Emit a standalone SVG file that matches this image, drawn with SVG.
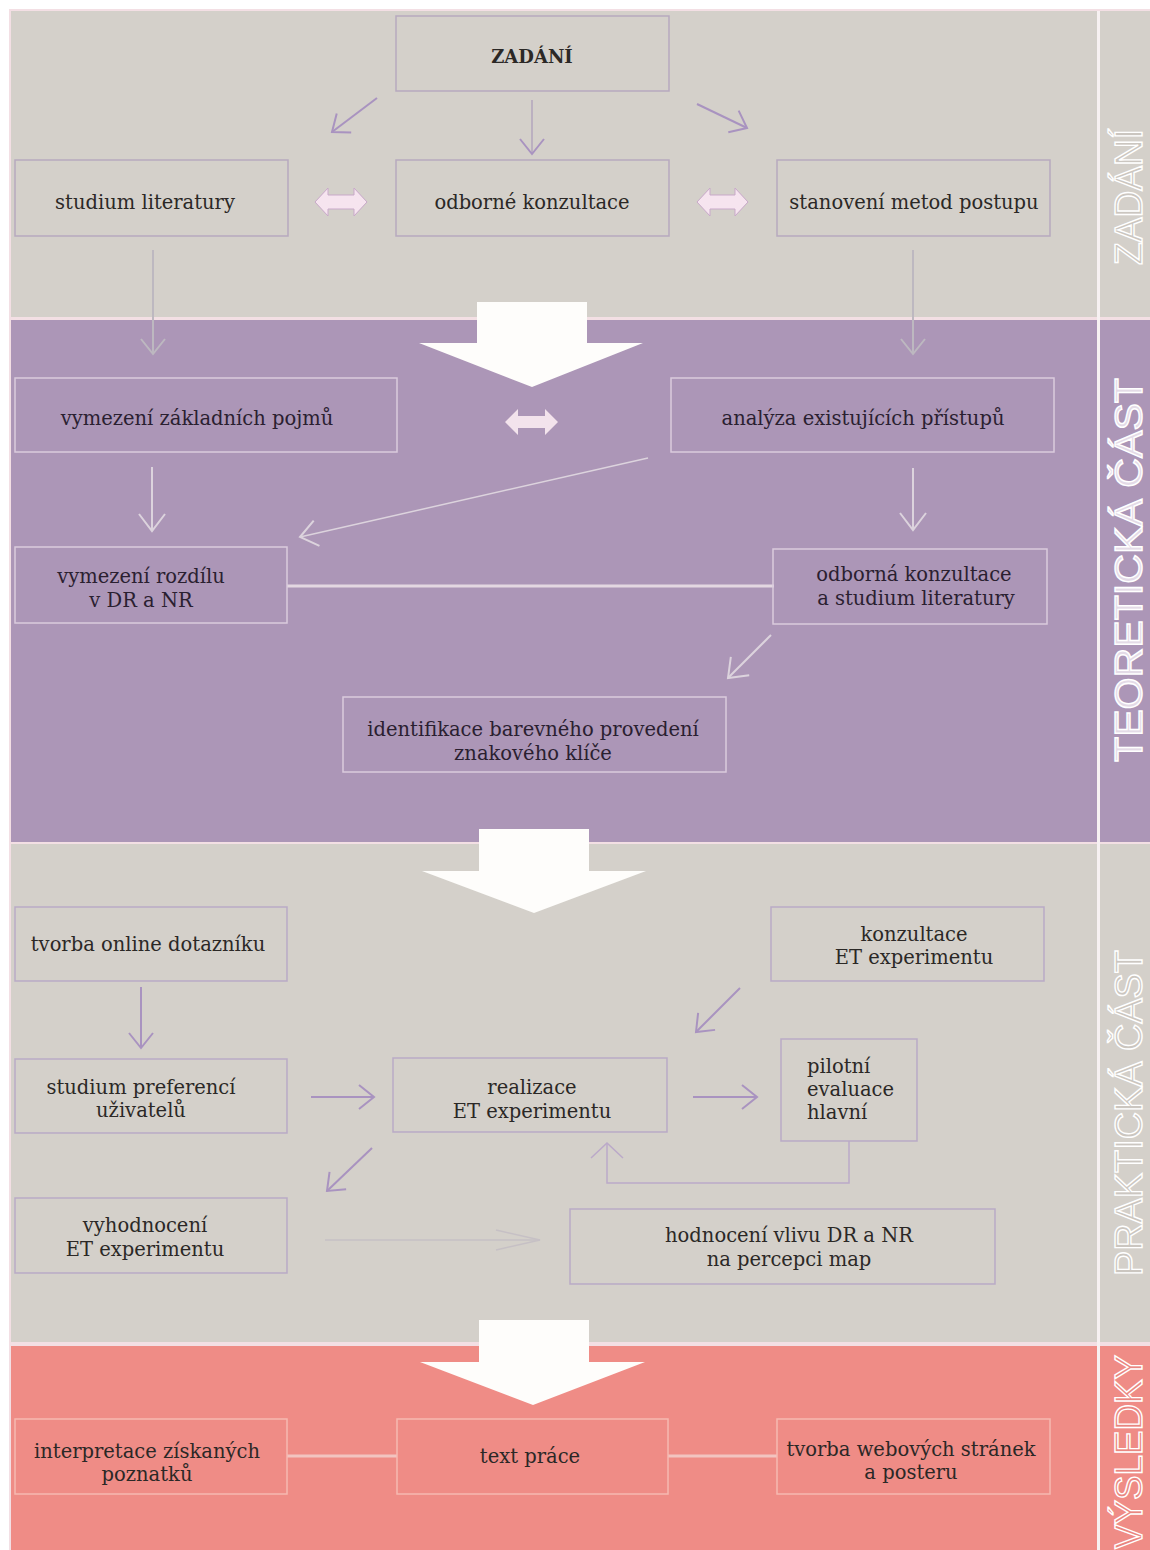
<svg xmlns="http://www.w3.org/2000/svg" width="1150" height="1550" viewBox="0 0 1150 1550">
  <style>
    .t { font-family: "DejaVu Serif", "Liberation Serif", serif; font-size: 19.5px; fill: #2b2826; text-anchor: middle; }
    .t2 { fill: #2a2030; }
    .tb { font-weight: bold; font-size: 18px; }
    .side { font-family: "Liberation Sans", "DejaVu Sans", sans-serif; font-size: 38px; stroke: #ffffff; stroke-width: 1.4; text-anchor: middle; }
    .box1 { fill: none; stroke: #b7a9bf; stroke-width: 1.5; }
    .box2 { fill: none; stroke: #dacbdd; stroke-width: 1.5; }
    .box3 { fill: none; stroke: #b9aac6; stroke-width: 1.5; }
    .box4 { fill: none; stroke: #f6b9b1; stroke-width: 1.5; }
    .ln { fill: none; stroke-width: 2; }
    .purple { stroke: #a993c0; }
    .grey { stroke: #bdb8c0; }
    .light { stroke: #dcd3dd; }
    .fb { stroke: #bba9c9; }
    .big { fill: #fefdfb; }
    .dbl { fill: #f6e4ef; stroke: #c8a9c9; stroke-width: 1; }
  </style>
  <defs>
    <marker id="hPurple" markerUnits="userSpaceOnUse" markerWidth="1" markerHeight="1" orient="auto" overflow="visible">
      <path d="M-15,-12 L0,0 L-15,12" fill="none" stroke="#a993c0" stroke-width="2"/>
    </marker>
    <marker id="hGrey" markerUnits="userSpaceOnUse" markerWidth="1" markerHeight="1" orient="auto" overflow="visible">
      <path d="M-15,-12 L0,0 L-15,12" fill="none" stroke="#bdb8c0" stroke-width="2"/>
    </marker>
    <marker id="hLight" markerUnits="userSpaceOnUse" markerWidth="1" markerHeight="1" orient="auto" overflow="visible">
      <path d="M-17,-13 L0,0 L-17,13" fill="none" stroke="#dcd3dd" stroke-width="2"/>
    </marker>
    <marker id="hFb" markerUnits="userSpaceOnUse" markerWidth="1" markerHeight="1" orient="auto" overflow="visible">
      <path d="M-15,-16 L0,0 L-15,16" fill="none" stroke="#bba9c9" stroke-width="1.5"/>
    </marker>
    <marker id="hLong" markerUnits="userSpaceOnUse" markerWidth="1" markerHeight="1" orient="auto" overflow="visible">
      <path d="M-44,-10 L0,0 L-44,10" fill="none" stroke="#c6c0c5" stroke-width="1.5"/>
    </marker>
  </defs>

  <!-- page and section bands -->
  <rect x="0" y="0" width="1150" height="1550" fill="#ffffff"/>
  <rect x="9" y="9" width="1141" height="1541" fill="#f3dfe4"/>
  <rect x="11" y="11" width="1139" height="306" fill="#d4d0ca"/>
  <rect x="11" y="320" width="1139" height="522" fill="#ac96b7"/>
  <rect x="11" y="844" width="1139" height="498" fill="#d4d0ca"/>
  <rect x="11" y="1346" width="1139" height="204" fill="#ef8c86"/>
  <rect x="1097" y="11" width="3" height="1539" fill="#f7f1f2"/>

  <!-- section titles -->
  <text class="side" fill="#cbc6c0" transform="translate(1142,197) rotate(-90)" textLength="136" lengthAdjust="spacingAndGlyphs">ZADÁNÍ</text>
  <text class="side" fill="#e4dbe7" transform="translate(1142,570) rotate(-90)" textLength="384" lengthAdjust="spacingAndGlyphs">TEORETICKÁ ČÁST</text>
  <text class="side" fill="#cbc6c0" transform="translate(1142,1113) rotate(-90)" textLength="326" lengthAdjust="spacingAndGlyphs">PRAKTICKÁ ČÁST</text>
  <text class="side" fill="#e98680" transform="translate(1142,1452) rotate(-90)" textLength="194" lengthAdjust="spacingAndGlyphs">VÝSLEDKY</text>

  <!-- big arrows between sections -->
  <path class="big" d="M477,302 H587 V343 H643 L532,387 L419,343 H477 Z"/>
  <path class="big" d="M479,829 H589 V871 H646 L534,913 L422,871 H479 Z"/>
  <path class="big" d="M479,1320 H589 V1362 H645 L533,1405 L420,1362 H479 Z"/>

  <!-- connectors -->
  <g id="connectors">
    <line x1="532" y1="100" x2="532" y2="154" style="stroke:#b3a6bd;stroke-width:1.5" marker-end="url(#hPurple)"/>
    <line class="ln purple" x1="377" y1="98" x2="332" y2="132" marker-end="url(#hPurple)"/>
    <line class="ln purple" x1="697" y1="104" x2="747" y2="128" marker-end="url(#hPurple)"/>
    <path class="dbl" d="M315,202 L328,188 L328,195 L354,195 L354,188 L367,202 L354,216 L354,209 L328,209 L328,216 Z"/>
    <path class="dbl" d="M697,202 L710,188 L710,195 L735,195 L735,188 L748,202 L735,216 L735,209 L710,209 L710,216 Z"/>
    <line class="ln grey" x1="153" y1="250" x2="153" y2="354" marker-end="url(#hGrey)"/>
    <line class="ln grey" x1="913" y1="250" x2="913" y2="354" marker-end="url(#hGrey)"/>

    <path d="M505,422 L518,409 L518,416 L545,416 L545,409 L558,422 L545,435 L545,428 L518,428 L518,435 Z" fill="#f3e3ec"/>
    <line class="ln light" x1="152" y1="467" x2="152" y2="531" marker-end="url(#hLight)"/>
    <line class="ln light" x1="913" y1="468" x2="913" y2="530" marker-end="url(#hLight)"/>
    <line class="ln light" x1="648" y1="458" x2="300" y2="537" marker-end="url(#hLight)" style="stroke-width:1.5"/>
    <line x1="287" y1="586" x2="774" y2="586" stroke="#e3d7e1" stroke-width="3"/>
    <line class="ln light" x1="771" y1="635" x2="728" y2="678" marker-end="url(#hLight)"/>

    <line class="ln purple" x1="141" y1="987" x2="141" y2="1048" marker-end="url(#hPurple)"/>
    <line class="ln purple" x1="740" y1="988" x2="696" y2="1032" marker-end="url(#hPurple)"/>
    <line class="ln purple" x1="311" y1="1097" x2="374" y2="1097" marker-end="url(#hPurple)"/>
    <line class="ln purple" x1="693" y1="1097" x2="757" y2="1097" marker-end="url(#hPurple)"/>
    <polyline class="ln fb" points="849,1141 849,1183 607,1183 607,1143" style="stroke-width:1.5" marker-end="url(#hFb)"/>
    <line class="ln purple" x1="372" y1="1148" x2="327" y2="1191" marker-end="url(#hPurple)"/>
    <line x1="325" y1="1240" x2="540" y2="1240" stroke="#c6c0c5" stroke-width="1.5" marker-end="url(#hLong)"/>

    <line x1="287" y1="1456" x2="397" y2="1456" stroke="#f2c4c0" stroke-width="3"/>
    <line x1="668" y1="1456" x2="777" y2="1456" stroke="#f2c4c0" stroke-width="3"/>
  </g>

  <!-- section 1 -->
  <g id="zadani">
    <rect class="box1" x="396" y="16" width="273" height="75"/>
    <text class="t tb" x="532" y="63">ZADÁNÍ</text>
  </g>
  <g id="studium-literatury">
    <rect class="box1" x="15" y="160" width="273" height="76"/>
    <text class="t" x="145" y="209">studium literatury</text>
  </g>
  <g id="odborne-konzultace">
    <rect class="box1" x="396" y="160" width="273" height="76"/>
    <text class="t" x="532" y="209">odborné konzultace</text>
  </g>
  <g id="stanoveni-metod">
    <rect class="box1" x="777" y="160" width="273" height="76"/>
    <text class="t" x="914" y="209">stanovení metod postupu</text>
  </g>

  <!-- section 2 -->
  <g id="vymezeni-pojmu">
    <rect class="box2" x="15" y="378" width="382" height="74"/>
    <text class="t t2" x="197" y="425">vymezení základních pojmů</text>
  </g>
  <g id="analyza">
    <rect class="box2" x="671" y="378" width="383" height="74"/>
    <text class="t t2" x="863" y="425">analýza existujících přístupů</text>
  </g>
  <g id="vymezeni-rozdilu">
    <rect class="box2" x="15" y="547" width="272" height="76"/>
    <text class="t t2" x="141" y="583">vymezení rozdílu</text>
    <text class="t t2" x="141" y="607">v DR a NR</text>
  </g>
  <g id="odborna-konzultace">
    <rect class="box2" x="773" y="549" width="274" height="75"/>
    <text class="t t2" x="914" y="581">odborná konzultace</text>
    <text class="t t2" x="916" y="605">a studium literatury</text>
  </g>
  <g id="identifikace">
    <rect class="box2" x="343" y="697" width="383" height="75"/>
    <text class="t t2" x="533" y="736">identifikace barevného provedení</text>
    <text class="t t2" x="533" y="760">znakového klíče</text>
  </g>

  <!-- section 3 -->
  <g id="tvorba-dotazniku">
    <rect class="box3" x="15" y="907" width="272" height="74"/>
    <text class="t" x="148" y="951">tvorba online dotazníku</text>
  </g>
  <g id="konzultace-et">
    <rect class="box3" x="771" y="907" width="273" height="74"/>
    <text class="t" x="914" y="941">konzultace</text>
    <text class="t" x="914" y="964">ET experimentu</text>
  </g>
  <g id="studium-preferenci">
    <rect class="box3" x="15" y="1059" width="272" height="74"/>
    <text class="t" x="141" y="1094">studium preferencí</text>
    <text class="t" x="141" y="1117">uživatelů</text>
  </g>
  <g id="realizace-et">
    <rect class="box3" x="393" y="1058" width="274" height="74"/>
    <text class="t" x="532" y="1094">realizace</text>
    <text class="t" x="532" y="1118">ET experimentu</text>
  </g>
  <g id="pilotni-hlavni">
    <rect class="box3" x="781" y="1039" width="136" height="102"/>
    <text class="t" x="807" y="1073" style="text-anchor:start">pilotní</text>
    <text class="t" x="807" y="1096" style="text-anchor:start">evaluace</text>
    <text class="t" x="807" y="1119" style="text-anchor:start">hlavní</text>
  </g>
  <g id="vyhodnoceni-et">
    <rect class="box3" x="15" y="1198" width="272" height="75"/>
    <text class="t" x="145" y="1232">vyhodnocení</text>
    <text class="t" x="145" y="1256">ET experimentu</text>
  </g>
  <g id="hodnoceni-vlivu">
    <rect class="box3" x="570" y="1209" width="425" height="75"/>
    <text class="t" x="789" y="1242">hodnocení vlivu DR a NR</text>
    <text class="t" x="789" y="1266">na percepci map</text>
  </g>

  <!-- section 4 -->
  <g id="interpretace">
    <rect class="box4" x="15" y="1419" width="272" height="75"/>
    <text class="t" x="147" y="1458">interpretace získaných</text>
    <text class="t" x="147" y="1481">poznatků</text>
  </g>
  <g id="text-prace">
    <rect class="box4" x="397" y="1419" width="271" height="75"/>
    <text class="t" x="530" y="1463">text práce</text>
  </g>
  <g id="tvorba-webu">
    <rect class="box4" x="777" y="1419" width="273" height="75"/>
    <text class="t" x="911" y="1456">tvorba webových stránek</text>
    <text class="t" x="911" y="1479">a posteru</text>
  </g>
</svg>
